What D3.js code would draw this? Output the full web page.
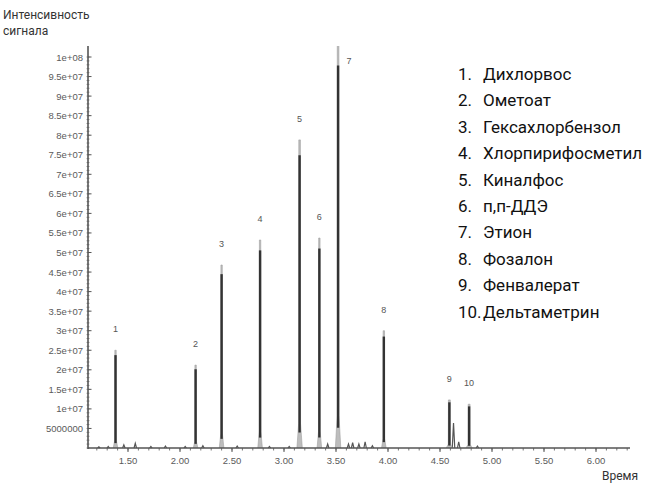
<!DOCTYPE html>
<html>
<head>
<meta charset="utf-8">
<script src="https://cdn.jsdelivr.net/npm/d3@7"></script>
<style>
body { margin: 0; background: #fff; }
svg { display: block; }
</style>
</head>
<body>
<svg id="svg" width="650" height="486"></svg>
<script>
// peaks of the chromatogram (time, intensity, half width at base)
var peakNames = ['1', '2', '3', '4', '5', '6', '7', '8', '9', '10']
var peakTimes = [1.38, 2.15, 2.40, 2.77, 3.15, 3.34, 3.52, 3.96, 4.59, 4.78]
var peakHeights = [2.5e7, 2.12e7, 4.68e7, 5.32e7, 7.88e7, 5.37e7, 1.03e8, 3.0e7, 1.23e7, 1.12e7]
var peakWidths = [0.022, 0.022, 0.022, 0.022, 0.026, 0.022, 0.026, 0.022, 0.03, 0.03]

// small bumps on the baseline
var bumpTimes = [1.22, 1.31, 1.46, 1.57, 1.72, 1.86, 2.05, 2.22, 2.55, 2.86, 3.05, 3.42, 3.62, 3.66, 3.72, 3.78, 3.85, 4.63, 4.68, 4.86]
var bumpHeights = [3e5, 4e5, 8e5, 1.2e6, 4e5, 5e5, 4e5, 6e5, 5e5, 4e5, 4e5, 1.0e6, 1.0e6, 1.4e6, 1.0e6, 1.6e6, 6e5, 6.4e6, 1.6e6, 5e5]

var legendItems = ['Дихлорвос', 'Ометоат', 'Гексахлорбензол', 'Хлорпирифосметил', 'Киналфос',
    'п,п-ДДЭ', 'Этион', 'Фозалон', 'Фенвалерат', 'Дельтаметрин']

var yTickValues = [5e6, 1e7, 1.5e7, 2e7, 2.5e7, 3e7, 3.5e7, 4e7, 4.5e7, 5e7, 5.5e7, 6e7, 6.5e7, 7e7,
    7.5e7, 8e7, 8.5e7, 9e7, 9.5e7, 1e8]
var yTickLabels = ['5000000', '1e+07', '1.5e+07', '2e+07', '2.5e+07', '3e+07', '3.5e+07', '4e+07',
    '4.5e+07', '5e+07', '5.5e+07', '6e+07', '6.5e+07', '7e+07', '7.5e+07', '8e+07', '8.5e+07',
    '9e+07', '9.5e+07', '1e+08']
var xTickValues = [1.5, 2.0, 2.5, 3.0, 3.5, 4.0, 4.5, 5.0, 5.5, 6.0]
var xTickLabels = ['1.50', '2.00', '2.50', '3.00', '3.50', '4.00', '4.50', '5.00', '5.50', '6.00']

var svg = d3.select('#svg')

var x = d3.scaleLinear().domain([1.5, 6.0]).range([128, 596])
var y = d3.scaleLinear().domain([0, 1e8]).range([448, 57])

var x0 = 88, x1 = 630, yTop = 46

svg.append('defs').append('clipPath').attr('id', 'plot')
    .append('rect').attr('x', x0).attr('y', yTop).attr('width', x1 - x0).attr('height', 448 - yTop + 2)

var plot = svg.append('g').attr('clip-path', 'url(#plot)')

// baseline bumps
bumpTimes.forEach(function(t, i) {
    var w = 0.012
    plot.append('path')
        .attr('d', d3.line()([[x(t - w), y(0)], [x(t), y(bumpHeights[i])], [x(t + w), y(0)]]))
        .attr('fill', 'none')
        .attr('stroke', '#555')
        .attr('stroke-width', 1.2)
})

// peaks: light outer body and dark core
peakTimes.forEach(function(t, i) {
    var h = peakHeights[i], w = peakWidths[i]

    plot.append('path')
        .attr('d', d3.line()([
            [x(t - w), y(0)], [x(t - w * 0.35), y(h * 0.08)], [x(t - w * 0.3), y(h)],
            [x(t + w * 0.3), y(h)], [x(t + w * 0.35), y(h * 0.08)], [x(t + w), y(0)]
        ]))
        .attr('fill', '#bdbdbd')
        .attr('stroke', '#a0a0a0')
        .attr('stroke-width', 0.6)

    plot.append('line')
        .attr('x1', x(t)).attr('x2', x(t))
        .attr('y1', y(h * 0.05)).attr('y2', y(h * 0.95))
        .attr('stroke', '#333')
        .attr('stroke-width', 2.4)
})

// peak numbers
var peakLabels = svg.append('g')
    .attr('font-family', 'Liberation Sans, sans-serif')
    .attr('font-size', 9)
    .attr('fill', '#555')
    .attr('text-anchor', 'middle')

peakTimes.forEach(function(t, i) {
    var tx = x(t), ty = Math.max(y(peakHeights[i]), yTop) - 18
    if (i === 6) { tx = x(t) + 11; ty = 64 }
    peakLabels.append('text').attr('x', tx).attr('y', ty).text(peakNames[i])
})

// axes
var axis = svg.append('g').attr('stroke', '#555')

axis.append('line').attr('x1', x0).attr('x2', x0).attr('y1', yTop).attr('y2', 449).attr('stroke-width', 1.6)
axis.append('line').attr('x1', x0).attr('x2', x1).attr('y1', 448).attr('y2', 448).attr('stroke-width', 1.6)

// minor y ticks
d3.range(0, 101).forEach(function(k) {
    axis.append('line')
        .attr('x1', x0 - 1.5).attr('x2', x0 + 1.5)
        .attr('y1', y(k * 1e6)).attr('y2', y(k * 1e6))
        .attr('stroke-width', 0.6)
})
yTickValues.forEach(function(v) {
    axis.append('line')
        .attr('x1', x0).attr('x2', x0 + 3.5)
        .attr('y1', y(v)).attr('y2', y(v))
        .attr('stroke-width', 1)
})

// minor x ticks
d3.range(12, 64).forEach(function(k) {
    var t = k / 10
    axis.append('line')
        .attr('x1', x(t)).attr('x2', x(t))
        .attr('y1', 448).attr('y2', 450.5)
        .attr('stroke-width', 0.8)
})
xTickValues.forEach(function(v) {
    axis.append('line')
        .attr('x1', x(v)).attr('x2', x(v))
        .attr('y1', 448).attr('y2', 452)
        .attr('stroke-width', 1)
})

var tickText = svg.append('g')
    .attr('font-family', 'Liberation Sans, sans-serif')
    .attr('font-size', 9.5)
    .attr('fill', '#5a5a5a')

yTickValues.forEach(function(v, i) {
    tickText.append('text')
        .attr('x', 83).attr('y', y(v) + 3.5)
        .attr('text-anchor', 'end')
        .text(yTickLabels[i])
})
xTickValues.forEach(function(v, i) {
    tickText.append('text')
        .attr('x', x(v)).attr('y', 464)
        .attr('text-anchor', 'middle')
        .text(xTickLabels[i])
})

// axis titles
var titles = svg.append('g')
    .attr('font-family', 'Roboto, sans-serif')
    .attr('font-size', 12)
    .attr('fill', '#333')

titles.append('text').attr('x', 3).attr('y', 19).text('Интенсивность')
titles.append('text').attr('x', 3).attr('y', 35).text('сигнала')
titles.append('text').attr('x', 638).attr('y', 480).attr('text-anchor', 'end').text('Время')

// legend
var legend = svg.append('g')
    .attr('font-family', 'Roboto, sans-serif')
    .attr('font-size', 17)
    .attr('fill', '#111')

legendItems.forEach(function(name, i) {
    var ly = 80 + i * 26.4
    legend.append('text').attr('x', 458).attr('y', ly).text((i + 1) + '.')
    legend.append('text').attr('x', 483).attr('y', ly).text(name)
})
</script>
</body>
</html>
